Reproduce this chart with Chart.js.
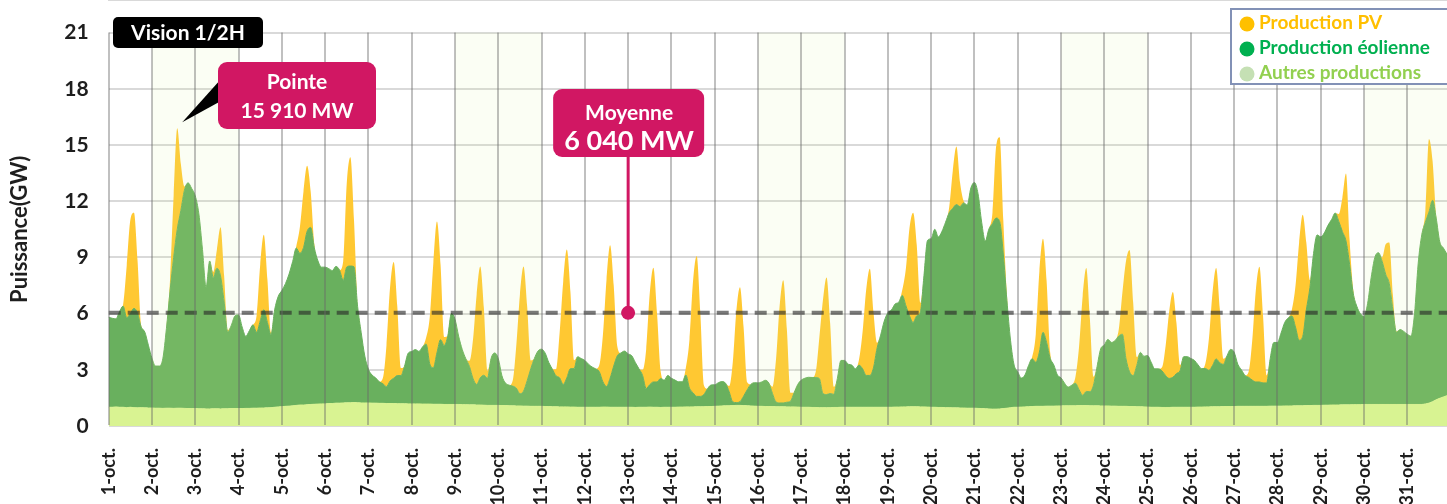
<!DOCTYPE html>
<html>
<head>
  <meta charset="utf-8">
  <title>Production PV et éolienne - octobre</title>
  <style>
    body {
      margin: 0;
      padding: 0;
      background-color: #fff;
    }
    #wrap {
      position: relative;
      width: 1447px;
      height: 504px;
    }
  </style>
</head>
<body>

<div id="wrap"><canvas id="prodChart" width="1447" height="504"></canvas></div>

<script src="https://cdn.jsdelivr.net/npm/chart.js"></script>
<script>
  // Jours du mois (étiquettes de l'axe X)
  const days = ['1-oct.', '2-oct.', '3-oct.', '4-oct.', '5-oct.', '6-oct.', '7-oct.', '8-oct.', '9-oct.', '10-oct.',
    '11-oct.', '12-oct.', '13-oct.', '14-oct.', '15-oct.', '16-oct.', '17-oct.', '18-oct.', '19-oct.', '20-oct.',
    '21-oct.', '22-oct.', '23-oct.', '24-oct.', '25-oct.', '26-oct.', '27-oct.', '28-oct.', '29-oct.', '30-oct.', '31-oct.'];

  // Pas de 2 heures dans chaque journée
  const slots = ['00h', '02h', '04h', '06h', '08h', '10h', '12h', '14h', '16h', '18h', '20h', '22h'];

  // Graduations de l'axe Y (GW)
  const yTicks = [0, 3, 6, 9, 12, 15, 18, 21];

  // Production PV (GW), une ligne par jour
  const pvProduction = [
    0, 0, 0, 0, 0.1, 2.8, 5.0, 5.1, 2.8, 0.1, 0, 0,
    0, 0, 0, 0, 0.1, 0.6, 3.3, 5.4, 2.5, 0.2, 0, 0,
    0, 0, 0, 0, 0, 0.3, 1.0, 2.6, 1.4, 0.1, 0, 0,
    0, 0, 0, 0, 0, 0.9, 3.0, 4.0, 2.3, 0.1, 0, 0,
    0, 0, 0, 0, 0.1, 1.4, 3.0, 3.5, 1.9, 0.2, 0, 0,
    0, 0, 0, 0, 0, 1.0, 4.5, 5.8, 2.5, 0, 0, 0,
    0, 0, 0, 0, 0.3, 2.2, 5.0, 6.2, 3.7, 0.4, 0, 0,
    0, 0, 0, 0, 0.35, 2.5, 5.6, 7.0, 4.0, 0.45, 0, 0,
    0, 0, 0, 0, 0.3, 2.1, 4.8, 5.95, 3.6, 0.4, 0, 0,
    0, 0, 0, 0, 0.3, 2.3, 5.3, 6.65, 4.0, 0.45, 0, 0,
    0, 0, 0, 0, 0.35, 2.4, 5.5, 6.85, 4.1, 0.45, 0, 0,
    0, 0, 0, 0, 0.35, 2.5, 5.7, 7.1, 4.3, 0.5, 0, 0,
    0, 0, 0, 0, 0.3, 2.1, 4.9, 6.1, 3.7, 0.4, 0, 0,
    0, 0, 0, 0, 0.4, 2.6, 6.0, 7.5, 4.5, 0.5, 0, 0,
    0, 0, 0, 0, 0.3, 2.1, 4.9, 6.1, 3.7, 0.4, 0, 0,
    0, 0, 0, 0, 0.35, 2.3, 5.2, 6.55, 3.9, 0.45, 0, 0,
    0, 0, 0, 0, 0.3, 2.2, 5.0, 6.25, 3.75, 0.4, 0, 0,
    0, 0, 0, 0, 0.3, 2.0, 4.6, 5.7, 3.0, 0.3, 0, 0,
    0, 0, 0, 0, 0.3, 2.0, 4.7, 5.85, 3.8, 0.5, 0, 0,
    0, 0, 0, 0, 0, 0.3, 2.0, 3.1, 1.3, 0.1, 0, 0,
    0, 0, 0, 0, 0, 0.6, 3.8, 4.5, 1.8, 0.3, 0, 0,
    0, 0, 0, 0, 0.1, 1.5, 4.3, 5.0, 3.3, 0.3, 0, 0,
    0, 0, 0, 0, 0.35, 2.3, 5.3, 6.6, 3.9, 0.45, 0, 0,
    0, 0, 0, 0, 0.35, 2.2, 5.2, 6.5, 3.9, 0.45, 0, 0,
    0, 0, 0, 0, 0.2, 1.6, 3.6, 4.55, 2.7, 0.3, 0, 0,
    0, 0, 0, 0, 0.25, 1.7, 3.9, 4.85, 2.9, 0.3, 0, 0,
    0, 0, 0, 0, 0.3, 2.1, 4.9, 6.15, 3.6, 0.4, 0, 0,
    0, 0, 0, 0, 0.35, 2.2, 5.2, 6.5, 3.6, 0.4, 0, 0,
    0, 0, 0, 0, 0, 0.4, 1.8, 3.6, 1.3, 0.2, 0, 0,
    0, 0, 0, 0, 0, 0.2, 1.6, 2.2, 0.8, 0.05, 0, 0,
    0, 0, 0, 0, 0, 0.6, 3.9, 2.1, 0.1, 0, 0, 0
  ];

  // Production éolienne (GW)
  const windProduction = [
    4.8, 4.75, 4.7, 5.1, 5.4, 4.8, 5.0, 5.3, 5.05, 4.3, 4.05, 3.35,
    2.65, 2.25, 2.25, 2.65, 4.25, 6.25, 8.05, 9.55, 10.55, 11.65, 12.05, 11.75,
    11.35, 10.4, 8.5, 6.5, 7.9, 7.0, 7.5, 7.1, 5.7, 4.1, 4.45, 4.95,
    5.0, 4.35, 3.85, 4.15, 4.45, 4.05, 4.65, 5.25, 4.55, 3.9, 5.2, 5.9,
    6.2, 6.55, 7.05, 7.7, 8.4, 8.1, 8.4, 9.25, 9.45, 8.35, 7.65, 7.3,
    7.3, 7.2, 7.1, 7.3, 7.1, 6.55, 7.25, 7.3, 7.25, 5.15, 3.75, 2.5,
    1.8, 1.5, 1.35, 1.15, 1.05, 0.9, 1.2, 1.35, 1.5, 1.5, 2.0, 2.7,
    2.8, 2.9, 2.8, 3.05, 3.2, 2.15, 1.95, 2.75, 3.45, 3.15, 3.65, 4.85,
    4.55, 3.65, 2.95, 2.45, 2.05, 1.4, 1.1, 1.45, 1.6, 1.45, 2.5, 2.8,
    2.5, 1.6, 1.2, 1.1, 1.05, 0.95, 0.65, 0.8, 1.35, 2.0, 2.55, 2.95,
    3.05, 2.85, 2.35, 2.0, 1.65, 1.55, 1.2, 1.55, 2.05, 2.05, 2.7, 2.6,
    2.5, 2.3, 2.15, 2.05, 1.9, 1.35, 1.1, 1.55, 2.2, 2.75, 2.9, 3.0,
    2.85, 2.75, 2.4, 2.05, 1.7, 1.0, 1.2, 1.35, 1.35, 1.55, 1.45, 1.7,
    1.55, 1.45, 1.35, 1.35, 1.7, 1.0, 0.75, 0.55, 0.55, 0.65, 0.95, 1.15,
    1.15, 1.25, 1.3, 1.2, 0.75, 0.2, 0.15, 0.2, 0.5, 0.85, 1.15, 1.25,
    1.25, 1.3, 1.4, 1.25, 0.7, 0.25, 0.2, 0.2, 0.25, 0.3, 0.75, 1.2,
    1.45, 1.55, 1.6, 1.6, 1.6, 1.55, 0.75, 0.7, 0.75, 0.7, 1.55, 2.5,
    2.5, 2.3, 2.25, 2.05, 2.25, 2.05, 1.7, 1.7, 2.1, 3.15, 3.85, 4.6,
    5.05, 5.2, 5.5, 5.6, 5.95, 5.4, 4.85, 4.5, 4.85, 5.05, 7.0, 8.9,
    9.0, 9.5, 9.1, 9.4, 9.9, 10.4, 10.65, 10.85, 10.75, 10.95, 10.85, 11.75,
    12.05, 11.45, 9.95, 8.95, 9.6, 9.9, 10.2, 10.0, 8.25, 5.75, 3.6, 2.25,
    1.9, 1.55, 1.7, 2.2, 2.55, 2.35, 2.9, 3.95, 3.4, 2.55, 2.2, 1.65,
    1.5, 1.2, 1.0, 1.1, 1.2, 0.85, 0.55, 0.75, 0.75, 1.1, 2.1, 3.05,
    3.25, 3.55, 3.4, 3.5, 3.75, 3.85, 2.55, 1.85, 1.65, 2.2, 2.9, 2.7,
    2.75, 2.4, 2.05, 2.05, 1.95, 1.7, 1.55, 1.6, 1.8, 1.95, 2.7, 2.7,
    2.6, 2.5, 2.25, 2.05, 2.05, 1.95, 2.2, 2.55, 2.35, 2.25, 2.7, 3.05,
    2.9, 2.25, 1.95, 1.65, 1.55, 1.4, 1.3, 1.3, 1.25, 1.25, 2.55, 3.4,
    3.4, 3.9, 4.45, 4.7, 4.8, 4.2, 3.5, 3.7, 5.1, 6.3, 8.1, 9.1,
    9.0, 9.2, 9.6, 9.9, 10.25, 9.8, 9.25, 8.75, 7.5, 5.95, 5.25, 4.85,
    4.7, 5.4, 6.8, 7.85, 8.1, 7.65, 6.95, 6.45, 5.05, 3.85, 4.0, 3.9,
    3.75, 3.65, 4.85, 7.5, 9.05, 9.7, 10.2, 10.75, 9.7, 8.35, 7.95, 7.55
  ];

  // Autres productions (GW)
  const otherProduction = [
    1.0, 1.0, 1.02, 1.0, 1.0, 0.98, 1.0, 0.98, 0.97, 0.98, 0.97, 0.96,
    0.96, 0.95, 0.95, 0.94, 0.95, 0.95, 0.94, 0.95, 0.95, 0.94, 0.93, 0.93,
    0.93, 0.92, 0.92, 0.91, 0.91, 0.92, 0.92, 0.91, 0.92, 0.92, 0.93, 0.93,
    0.93, 0.93, 0.94, 0.94, 0.95, 0.95, 0.96, 0.96, 0.97, 0.98, 1.0, 1.02,
    1.03, 1.05, 1.06, 1.08, 1.1, 1.12, 1.12, 1.14, 1.15, 1.16, 1.17, 1.18,
    1.18, 1.2, 1.2, 1.22, 1.22, 1.23, 1.24, 1.24, 1.25, 1.24, 1.23, 1.23,
    1.23, 1.22, 1.22, 1.21, 1.21, 1.2, 1.2, 1.2, 1.19, 1.19, 1.19, 1.18,
    1.18, 1.18, 1.18, 1.17, 1.17, 1.17, 1.16, 1.16, 1.16, 1.15, 1.15, 1.15,
    1.15, 1.15, 1.14, 1.14, 1.13, 1.13, 1.12, 1.12, 1.11, 1.1, 1.1, 1.1,
    1.1, 1.09, 1.09, 1.08, 1.08, 1.07, 1.07, 1.06, 1.06, 1.05, 1.05, 1.05,
    1.05, 1.04, 1.04, 1.03, 1.03, 1.02, 1.02, 1.02, 1.01, 1.01, 1.0, 1.0,
    1.0, 1.0, 1.0, 1.0, 1.0, 1.01, 1.01, 1.0, 1.0, 1.0, 1.0, 1.0,
    1.0, 1.0, 0.99, 1.0, 1.0, 1.0, 1.01, 1.0, 1.0, 0.99, 1.0, 1.0,
    1.0, 1.0, 1.01, 1.01, 1.02, 1.02, 1.02, 1.03, 1.03, 1.03, 1.04, 1.04,
    1.05, 1.06, 1.07, 1.08, 1.08, 1.09, 1.1, 1.1, 1.09, 1.08, 1.07, 1.06,
    1.05, 1.05, 1.04, 1.04, 1.04, 1.03, 1.03, 1.03, 1.02, 1.02, 1.02, 1.01,
    1.0, 1.0, 1.0, 0.99, 0.99, 0.98, 0.98, 0.98, 0.98, 0.99, 0.99, 1.0,
    1.0, 1.0, 1.0, 1.0, 1.0, 1.0, 1.0, 1.0, 1.0, 1.0, 1.0, 1.0,
    1.0, 1.0, 1.01, 1.01, 1.02, 1.02, 1.03, 1.03, 1.03, 1.02, 1.02, 1.01,
    1.0, 1.0, 0.99, 0.99, 0.98, 0.98, 0.97, 0.97, 0.96, 0.96, 0.95, 0.95,
    0.95, 0.94, 0.93, 0.92, 0.91, 0.9, 0.9, 0.91, 0.93, 0.95, 0.98, 1.0,
    1.0, 1.01, 1.02, 1.03, 1.04, 1.05, 1.05, 1.05, 1.06, 1.06, 1.06, 1.07,
    1.07, 1.08, 1.08, 1.08, 1.08, 1.09, 1.09, 1.09, 1.08, 1.08, 1.08, 1.07,
    1.07, 1.07, 1.06, 1.06, 1.05, 1.05, 1.05, 1.04, 1.04, 1.03, 1.03, 1.02,
    1.01, 1.0, 1.0, 1.0, 0.99, 0.99, 0.99, 1.0, 1.0, 1.0, 1.0, 1.0,
    1.0, 1.0, 1.01, 1.01, 1.02, 1.02, 1.03, 1.03, 1.03, 1.04, 1.04, 1.04,
    1.04, 1.05, 1.05, 1.05, 1.05, 1.05, 1.05, 1.05, 1.05, 1.05, 1.06, 1.06,
    1.06, 1.06, 1.07, 1.07, 1.07, 1.08, 1.08, 1.08, 1.09, 1.09, 1.1, 1.1,
    1.1, 1.11, 1.11, 1.12, 1.12, 1.12, 1.13, 1.13, 1.13, 1.14, 1.14, 1.14,
    1.15, 1.15, 1.15, 1.15, 1.15, 1.15, 1.15, 1.15, 1.15, 1.15, 1.15, 1.15,
    1.15, 1.15, 1.15, 1.15, 1.15, 1.18, 1.22, 1.3, 1.4, 1.48, 1.55, 1.62
  ];

  // Moyenne du mois (GW) et jour où le repère est posé
  const meanValue = 6.04;
  const meanMarkerDay = 13;

  // Samedis (la bande couvre le week-end)
  const weekendStarts = [2, 9, 16, 23, 30];

  // Légende
  const legendItems = [
    { text: 'Production PV', marker: '#ffc000', color: '#ffbf00' },
    { text: 'Production éolienne', marker: '#00b050', color: '#00b050' },
    { text: 'Autres productions', marker: '#c5e0b4', color: '#92d050' }
  ];

  const FONT = "'Lato', 'Open Sans', sans-serif";
  const PINK = '#d11763';

  const timeLabels = [];
  days.forEach(d => slots.forEach(s => timeLabels.push(d + ' ' + s)));

  function roundBox(ctx, x, y, w, h, r, fill) {
    ctx.beginPath();
    ctx.roundRect(x, y, w, h, r);
    ctx.fillStyle = fill;
    ctx.fill();
  }

  const decorPlugin = {
    id: 'decor',
    afterDatasetsDraw(chart) {
      const { ctx, chartArea: area, scales: { x, y } } = chart;
      ctx.save();

      // bandes week-end
      ctx.fillStyle = 'rgba(215, 245, 150, 0.10)';
      weekendStarts.forEach(d => {
        const x0 = x.getPixelForValue((d - 1) * slots.length);
        const endIdx = (d + 1) * slots.length;
        const x1 = endIdx < timeLabels.length ? x.getPixelForValue(endIdx) : area.right;
        ctx.fillRect(x0, area.top, x1 - x0, area.bottom - area.top);
      });

      // ligne de moyenne
      const ym = y.getPixelForValue(meanValue);
      ctx.setLineDash([12, 7]);
      ctx.strokeStyle = 'rgba(40, 40, 40, 0.62)';
      ctx.lineWidth = 4;
      ctx.beginPath();
      ctx.moveTo(area.left, ym);
      ctx.lineTo(area.right, ym);
      ctx.stroke();
      ctx.restore();
    },
    afterDraw(chart) {
      const { ctx, scales: { x, y } } = chart;
      ctx.save();
      ctx.textAlign = 'center';
      ctx.textBaseline = 'middle';

      // Vision 1/2H
      roundBox(ctx, 113, 17, 150, 31, 5, '#000');
      ctx.fillStyle = '#fff';
      ctx.font = 'bold 21px ' + FONT;
      ctx.fillText('Vision 1/2H', 188, 33);

      // Pointe : queue vers le maximum
      let peakIdx = 0, peakVal = 0;
      for (let i = 0; i < timeLabels.length; i++) {
        const t = pvProduction[i] + windProduction[i] + otherProduction[i];
        if (t > peakVal) { peakVal = t; peakIdx = i; }
      }
      const tipX = x.getPixelForValue(peakIdx) + 5;
      const tipY = y.getPixelForValue(peakVal) - 6;
      ctx.fillStyle = '#000';
      ctx.beginPath();
      ctx.moveTo(221, 79);
      ctx.lineTo(tipX, tipY);
      ctx.lineTo(221, 101);
      ctx.closePath();
      ctx.fill();
      roundBox(ctx, 218, 62, 158, 67, 9, PINK);
      ctx.fillStyle = '#fff';
      ctx.font = 'bold 21px ' + FONT;
      ctx.fillText('Pointe', 297, 82);
      ctx.fillText('15 910 MW', 297, 111);

      // Moyenne
      const mx = x.getPixelForValue((meanMarkerDay - 1) * slots.length);
      const my = y.getPixelForValue(meanValue);
      ctx.strokeStyle = PINK;
      ctx.lineWidth = 3;
      ctx.beginPath();
      ctx.moveTo(mx, 150);
      ctx.lineTo(mx, my);
      ctx.stroke();
      ctx.fillStyle = PINK;
      ctx.beginPath();
      ctx.arc(mx, my, 7, 0, Math.PI * 2);
      ctx.fill();
      roundBox(ctx, mx - 75, 89, 151, 68, 9, PINK);
      ctx.fillStyle = '#fff';
      ctx.font = 'bold 21px ' + FONT;
      ctx.fillText('Moyenne', mx + 1, 113);
      ctx.font = 'bold 27px ' + FONT;
      ctx.fillText('6 040 MW', mx + 1, 141);

      // Légende
      ctx.fillStyle = '#fff';
      ctx.fillRect(1231, 9, 220, 75);
      ctx.strokeStyle = '#8291b6';
      ctx.lineWidth = 2;
      ctx.strokeRect(1231, 9, 220, 75);
      ctx.textAlign = 'left';
      ctx.font = 'bold 19px ' + FONT;
      legendItems.forEach((item, i) => {
        const cy = 23 + i * 25;
        ctx.fillStyle = item.marker;
        ctx.beginPath();
        ctx.arc(1247, cy + 1, 7.5, 0, Math.PI * 2);
        ctx.fill();
        ctx.fillStyle = item.color;
        ctx.fillText(item.text, 1259, cy);
      });
      ctx.restore();
    }
  };

  new Chart(document.getElementById('prodChart'), {
    type: 'line',
    data: {
      labels: timeLabels,
      datasets: [
        {
          label: 'Autres productions',
          data: otherProduction,
          backgroundColor: '#d9f392',
          borderColor: '#d9f392',
          borderWidth: 1,
          fill: 'origin'
        },
        {
          label: 'Production éolienne',
          data: windProduction,
          backgroundColor: '#69b05e',
          borderColor: '#69b05e',
          borderWidth: 1,
          fill: '-1'
        },
        {
          label: 'Production PV',
          data: pvProduction,
          backgroundColor: '#ffc832',
          borderColor: 'rgba(0,0,0,0)',
          borderWidth: 1,
          fill: '-1'
        }
      ]
    },
    options: {
      responsive: false,
      animation: false,
      devicePixelRatio: 1,
      layout: { padding: { top: 24, right: 0, bottom: 0, left: 0 } },
      elements: {
        point: { radius: 0 },
        line: { cubicInterpolationMode: 'monotone' }
      },
      plugins: {
        legend: { display: false },
        tooltip: { enabled: false }
      },
      scales: {
        x: {
          offset: false,
          // les graduations sans étiquette sont retirées : une ligne par jour
          grid: { z: 1, drawTicks: false, lineWidth: 2, color: 'rgba(105, 105, 105, 0.42)' },
          border: { color: '#d9d9d9', width: 2 },
          ticks: {
            autoSkip: false,
            minRotation: 90,
            maxRotation: 90,
            padding: 22,
            color: '#1e1e1e',
            font: { family: FONT, size: 18, weight: 'bold' },
            callback: (value, index) => (index % slots.length === 0 ? days[index / slots.length] : null)
          },
          afterFit: scale => {
            scale.height = 78;
            // la dernière étiquette n'est pas au bord : pas de marge à droite
            scale.paddingRight = 0;
          }
        },
        y: {
          stacked: true,
          min: 0,
          max: 21,
          grid: { color: '#d9d9d9', lineWidth: 2, drawTicks: false },
          border: { display: false },
          afterBuildTicks: scale => { scale.ticks = yTicks.map(v => ({ value: v })); },
          ticks: {
            padding: 20,
            color: '#1e1e1e',
            font: { family: FONT, size: 21, weight: 'bold' }
          },
          title: {
            display: true,
            text: 'Puissance(GW)',
            color: '#1e1e1e',
            padding: { top: 7, bottom: 0 },
            font: { family: FONT, size: 22, weight: 'bold' }
          },
          afterFit: scale => { scale.width = 108.7; }
        }
      }
    },
    plugins: [decorPlugin]
  });
</script>

</body>
</html>
